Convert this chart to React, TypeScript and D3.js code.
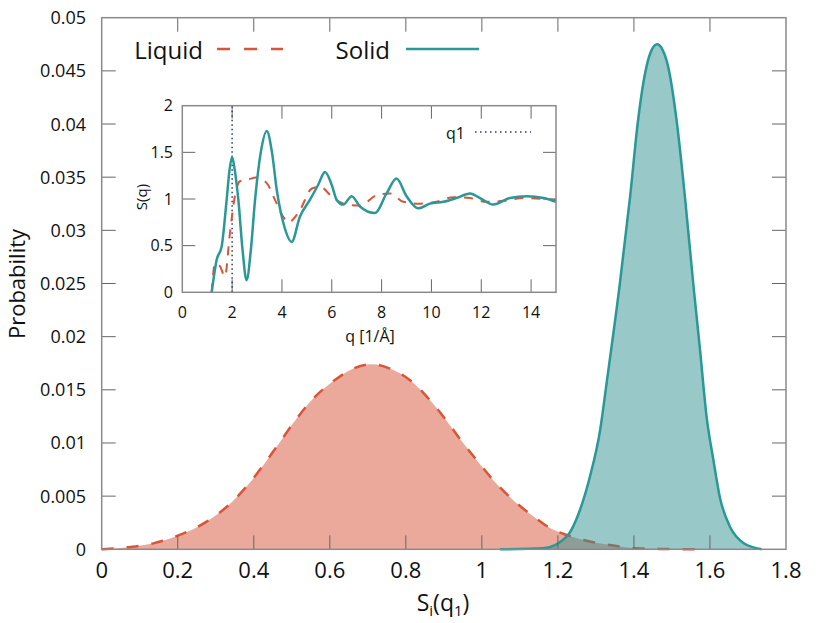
import React from 'react';
import * as d3 from 'd3';

// distribution of S_i(q1)
const liquidX = [0, 0.07, 0.136, 0.2, 0.276, 0.329, 0.381, 0.425, 0.469, 0.513, 0.557, 0.609, 0.662, 0.71, 0.758, 0.811, 0.864, 0.907, 0.942, 0.986, 1.03, 1.083, 1.135, 1.179, 1.223, 1.276, 1.337, 1.407, 1.48, 1.566];
const liquidP = [0, 0.0002, 0.00056, 0.00128, 0.0026, 0.004, 0.0059, 0.0079, 0.0101, 0.0123, 0.0142, 0.0158, 0.017, 0.0174, 0.017, 0.0159, 0.014, 0.0121, 0.0104, 0.0084, 0.0065, 0.0046, 0.0031, 0.002, 0.00135, 0.0008, 0.0004, 0.0001, 0.00003, 0];

const solidX = [1.048, 1.161, 1.223, 1.258, 1.284, 1.311, 1.328, 1.363, 1.39, 1.411, 1.433, 1.447, 1.461, 1.475, 1.49, 1.512, 1.534, 1.556, 1.574, 1.591, 1.609, 1.626, 1.653, 1.688, 1.736];
const solidP = [0, 0.0001, 0.0012, 0.0037, 0.0068, 0.0112, 0.0156, 0.025, 0.0332, 0.0404, 0.0454, 0.047, 0.0475, 0.047, 0.0454, 0.0404, 0.0332, 0.025, 0.0187, 0.0125, 0.0084, 0.0049, 0.0021, 0.0006, 0];

// inset: structure factor S(q)
const qSolid = [1.18, 1.38, 1.58, 1.78, 1.9, 2.0, 2.1, 2.25, 2.42, 2.58, 2.75, 2.92, 3.15, 3.39, 3.6, 3.79, 4.1, 4.39, 4.72, 5.12, 5.45, 5.73, 6.0, 6.2, 6.46, 6.8, 7.13, 7.73, 8.2, 8.6, 9.0, 9.47, 9.94, 10.48, 11.0, 11.55, 11.95, 12.48, 13.15, 13.82, 14.5, 15];
const sSolid = [0, 0.35, 0.49, 0.99, 1.32, 1.45, 1.32, 0.99, 0.45, 0.13, 0.45, 0.99, 1.5, 1.73, 1.5, 1.1, 0.7, 0.54, 0.81, 0.99, 1.15, 1.29, 1.15, 0.99, 0.94, 1.03, 0.92, 0.85, 1.06, 1.22, 1.03, 0.9, 0.95, 0.97, 1.01, 1.06, 1.01, 0.94, 1.01, 1.03, 1.01, 0.97];

const qLiquid = [1.18, 1.31, 1.51, 1.71, 1.91, 2.11, 2.31, 2.65, 2.98, 3.39, 3.72, 4.05, 4.25, 4.72, 5.19, 5.53, 6.06, 6.6, 7.13, 7.8, 8.34, 8.87, 9.54, 10.2, 10.88, 11.55, 12.2, 12.9, 13.7, 15];
const sLiquid = [0, 0.31, 0.28, 0.17, 0.63, 1.03, 1.19, 1.21, 1.23, 1.17, 0.99, 0.81, 0.75, 0.88, 1.11, 1.13, 1.01, 0.94, 0.93, 1.04, 1.06, 0.97, 0.95, 0.97, 1.02, 1.01, 0.97, 0.98, 1.01, 0.99];

const q1 = 2.0;

const xTicks = [0, 0.2, 0.4, 0.6, 0.8, 1, 1.2, 1.4, 1.6, 1.8];
const yTicks = [0, 0.005, 0.01, 0.015, 0.02, 0.025, 0.03, 0.035, 0.04, 0.045, 0.05];
const insetXTicks = [0, 2, 4, 6, 8, 10, 12, 14];
const insetYTicks = [0, 0.5, 1, 1.5, 2];

const RED = '#d9553a';
const TEAL = '#2a9896';
const NAVY = '#2b3a7a';
const FONT = '"Open Sans", "DejaVu Sans", sans-serif';

const zip = (xs: number[], ys: number[]) => xs.map((x, i) => [x, ys[i]] as [number, number]);

const App: React.FC = () => {
    const W = 830, H = 623;
    const m = { left: 101.7, right: 786, top: 17.7, bottom: 549.3 };
    const ins = { left: 182.3, right: 556, top: 105.7, bottom: 292.3 };

    const x = d3.scaleLinear().domain([0, 1.8]).range([m.left, m.right]);
    const y = d3.scaleLinear().domain([0, 0.05]).range([m.bottom, m.top]);
    const qx = d3.scaleLinear().domain([0, 15]).range([ins.left, ins.right]);
    const sy = d3.scaleLinear().domain([0, 2]).range([ins.bottom, ins.top]);

    const line = d3.line<[number, number]>().x(d => x(d[0])).y(d => y(d[1])).curve(d3.curveMonotoneX);
    const area = d3.area<[number, number]>().x(d => x(d[0])).y0(y(0)).y1(d => y(d[1])).curve(d3.curveMonotoneX);
    const sLine = d3.line<[number, number]>().x(d => qx(d[0])).y(d => sy(d[1])).curve(d3.curveMonotoneX);

    const liquid = zip(liquidX, liquidP);
    const solid = zip(solidX, solidP);

    const tick = '#666';
    const frame = '#8a8a8a';
    const tl = 14;

    return (
        <svg width={W} height={H} style={{ position: 'absolute', left: 0, top: 0, background: '#fff' }} fontFamily={FONT}>
            <rect width={W} height={H} fill="#fff" />

            {/* distributions */}
            <path d={area(liquid) || ''} fill="rgba(213,83,55,0.5)" />
            <path d={line(liquid) || ''} fill="none" stroke={RED} strokeWidth={2.5} strokeDasharray="12,13" />
            <path d={area(solid) || ''} fill="rgba(51,145,147,0.5)" />
            <path d={line(solid) || ''} fill="none" stroke={TEAL} strokeWidth={2.5} />

            {/* main ticks, mirrored */}
            {xTicks.slice(1, -1).map(t => (
                <g key={'xt' + t}>
                    <line x1={x(t)} x2={x(t)} y1={m.bottom} y2={m.bottom - tl} stroke={tick} strokeWidth={1} />
                    <line x1={x(t)} x2={x(t)} y1={m.top} y2={m.top + tl} stroke={tick} strokeWidth={1} />
                </g>
            ))}
            {yTicks.slice(1, -1).map(t => (
                <g key={'yt' + t}>
                    <line x1={m.left} x2={m.left + tl} y1={y(t)} y2={y(t)} stroke={tick} strokeWidth={1} />
                    <line x1={m.right} x2={m.right - tl} y1={y(t)} y2={y(t)} stroke={tick} strokeWidth={1} />
                </g>
            ))}
            <rect x={m.left} y={m.top} width={m.right - m.left} height={m.bottom - m.top} fill="none" stroke={frame} strokeWidth={1.5} />

            {xTicks.map(t => (
                <text key={'xl' + t} x={x(t)} y={578} textAnchor="middle" fontSize={22} fill="#111">{String(t)}</text>
            ))}
            {yTicks.map(t => (
                <text key={'yl' + t} x={86} y={y(t)} dy="0.36em" textAnchor="end" fontSize={18} fill="#111">{String(+t.toFixed(3))}</text>
            ))}

            <text transform="translate(25,284) rotate(-90)" textAnchor="middle" fontSize={22} fill="#111">Probability</text>
            <text x={443} y={611} textAnchor="middle" fontSize={23} fill="#111">
                S<tspan fontSize={15} dy={5}>i</tspan><tspan dy={-5}>(q</tspan><tspan fontSize={15} dy={5}>1</tspan><tspan dy={-5}>)</tspan>
            </text>

            {/* legend */}
            <text x={203} y={59} textAnchor="end" fontSize={24} fill="#111">Liquid</text>
            <line x1={217} x2={283} y1={49} y2={49} stroke={RED} strokeWidth={2.5} strokeDasharray="13,14" />
            <text x={390} y={59} textAnchor="end" fontSize={24} fill="#111">Solid</text>
            <line x1={406} x2={479} y1={49} y2={49} stroke={TEAL} strokeWidth={2.5} />

            {/* inset */}
            <rect x={ins.left} y={ins.top} width={ins.right - ins.left} height={ins.bottom - ins.top} fill="#fff" />
            {insetXTicks.slice(1).map(t => (
                <g key={'ixt' + t}>
                    <line x1={qx(t)} x2={qx(t)} y1={ins.bottom} y2={ins.bottom - 13} stroke={tick} strokeWidth={1} />
                    <line x1={qx(t)} x2={qx(t)} y1={ins.top} y2={ins.top + 13} stroke={tick} strokeWidth={1} />
                </g>
            ))}
            {insetYTicks.slice(1, -1).map(t => (
                <g key={'iyt' + t}>
                    <line x1={ins.left} x2={ins.left + 13} y1={sy(t)} y2={sy(t)} stroke={tick} strokeWidth={1} />
                    <line x1={ins.right} x2={ins.right - 13} y1={sy(t)} y2={sy(t)} stroke={tick} strokeWidth={1} />
                </g>
            ))}
            <line x1={qx(q1)} x2={qx(q1)} y1={ins.bottom} y2={ins.top} stroke={NAVY} strokeWidth={1.5} strokeDasharray="1.5,3" />
            <path d={sLine(zip(qLiquid, sLiquid)) || ''} fill="none" stroke={RED} strokeWidth={2} strokeDasharray="9,8" />
            <path d={sLine(zip(qSolid, sSolid)) || ''} fill="none" stroke={TEAL} strokeWidth={2.5} />
            <rect x={ins.left} y={ins.top} width={ins.right - ins.left} height={ins.bottom - ins.top} fill="none" stroke={frame} strokeWidth={1.5} />

            {insetXTicks.map(t => (
                <text key={'ixl' + t} x={qx(t)} y={318} textAnchor="middle" fontSize={16} fill="#111">{String(t)}</text>
            ))}
            {insetYTicks.map(t => (
                <text key={'iyl' + t} x={173} y={sy(t)} dy="0.36em" textAnchor="end" fontSize={16} fill="#111">{String(t)}</text>
            ))}
            <text x={370} y={342} textAnchor="middle" fontSize={16} fill="#111">q [1/Å]</text>
            <text transform="translate(147,197) rotate(-90)" textAnchor="middle" fontSize={15} fill="#111">S(q)</text>

            <text x={465} y={139} textAnchor="end" fontSize={16} fill="#111">q1</text>
            <line x1={475} x2={531} y1={132} y2={132} stroke={NAVY} strokeWidth={1.5} strokeDasharray="1.5,3.5" />
        </svg>
    );
};

export default App;
